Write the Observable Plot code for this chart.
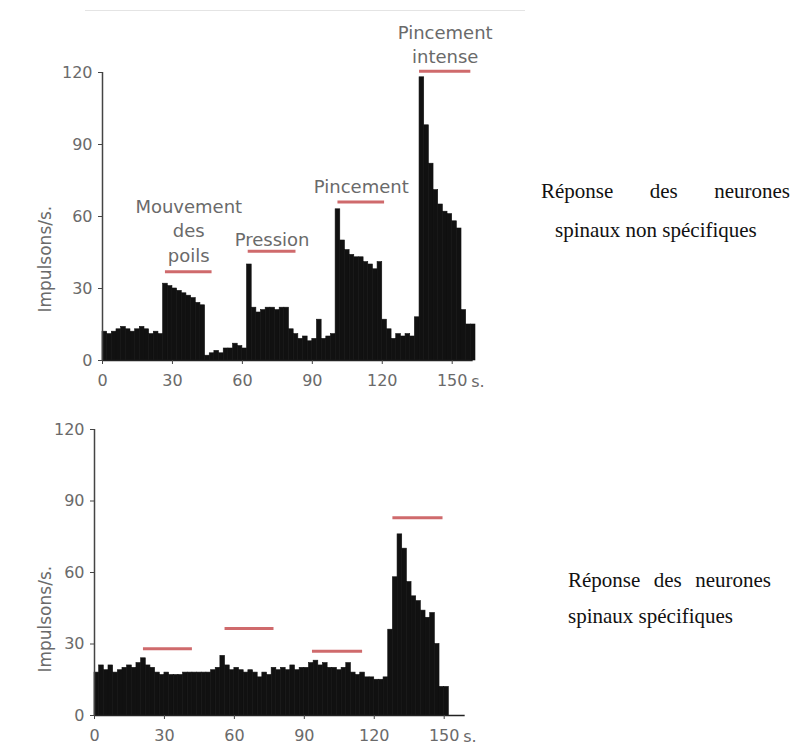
<!DOCTYPE html>
<html>
<head>
<meta charset="utf-8">
<script src="https://cdn.jsdelivr.net/npm/d3@7"></script>
<script src="https://cdn.jsdelivr.net/npm/@observablehq/plot@0.6"></script>
<style>
  html, body { margin: 0; padding: 0; background: #fff; }
  #page { position: relative; width: 790px; height: 748px; overflow: hidden; background: #fff; }
  .chart { position: absolute; left: 0; }
  .note { position: absolute; font-family: "Liberation Serif", "Times New Roman", serif; font-size: 21px; line-height: 21px; color: #111; white-space: nowrap; }
  .just { text-align: justify; text-align-last: justify; white-space: normal; }
  #topline { position: absolute; left: 85px; top: 10px; width: 440px; height: 1px; background: #e4e4e4; }
</style>
</head>
<body>
<div id="page">
  <div id="topline"></div>
  <div id="top" class="chart" style="top:0px"></div>
  <div id="bottom" class="chart" style="top:400px"></div>
  <div class="note just" style="left:541px; top:181px; width:249px;">Réponse des neurones</div>
  <div class="note" style="left:555px; top:220px;">spinaux non spécifiques</div>
  <div class="note just" style="left:568px; top:570px; width:203px;">Réponse des neurones</div>
  <div class="note" style="left:568px; top:606px;">spinaux spécifiques</div>
</div>
<script>
// ---- data ----
const binWidth = 2; // seconds per bin
const yTicks = [0, 30, 60, 90, 120];
const xTicks = [0, 30, 60, 90, 120, 150];
const yLabel = "Impulsons/s.";
const xUnit = "s.";

// Top: neurones non spécifiques (impulsions/s per 2-s bin, from t = 0)
const topRates = [
  12, 11, 12, 13, 14, 13, 12, 13, 14, 13, 11, 12, 11,
  32, 31, 30, 29, 28, 27, 26, 24, 23,
  2, 3, 4, 3, 5, 5, 7, 6, 5,
  40,
  22, 20, 21, 22, 22, 21, 22, 22,
  13, 11, 9, 10, 8, 9, 17, 9, 10, 11,
  63, 50, 46, 44, 43, 43, 41, 40, 38, 41,
  17, 13, 9, 11, 10, 11, 10, 18,
  118, 98, 82, 71, 65, 62, 61, 58, 55, 21, 15, 15
];

// Bottom: neurones spécifiques
const bottomRates = [
  18, 21, 19, 21, 18, 19, 20, 21, 20, 22, 24, 21,
  20, 18, 17, 18, 17, 17, 17, 18, 18, 18, 18, 18, 18,
  19, 20, 25, 21, 19, 20, 19, 18, 19, 18, 16, 18, 17, 20, 19,
  20, 19, 21, 19, 20, 20, 22, 23, 21, 22,
  20, 20, 19, 20, 22, 18, 17, 18, 16, 16, 15, 15,
  16, 36, 58, 76, 70, 56, 50, 48, 44, 41, 43, 30, 12, 12
];

// Stimuli (start s, end s, level of the bar in impulsions/s)
const topStimuli = [
  {label: "Mouvement\ndes\npoils", start: 27, end: 47, level: 37, labelY: 54.6},
  {label: "Pression", start: 62.5, end: 83, level: 45.5, labelY: 51},
  {label: "Pincement", start: 101, end: 121, level: 66, labelY: 73},
  {label: "Pincement\nintense", start: 136, end: 158, level: 120.5, labelY: 132.3}
];
const bottomStimuli = [
  {start: 21, end: 42, level: 28},
  {start: 56, end: 77, level: 36.5},
  {start: 93.5, end: 115, level: 27},
  {start: 128, end: 149.5, level: 83}
];
const axisEnd = 159;

// ---- build ----
function bins(rates) {
  return rates.map((v, i) => ({t0: i * binWidth, t1: (i + 1) * binWidth, v}));
}

const gray = "#6a6a6a";
const red = "#cf6a6c";

function makeChart({rates, stimuli, marginLeft, marginTop, marginBottom, height, width, labelDy, labelDx, labelY, withLabels}) {
  const marks = [
    Plot.rectY(bins(rates), {x1: "t0", x2: "t1", y: "v", fill: "#111", stroke: "#111", strokeWidth: 0.6, inset: 0}),
    Plot.ruleY([0], {x1: 0, x2: axisEnd, stroke: "#222", strokeWidth: 1.5}),
    Plot.ruleX([0], {y1: 0, y2: 120, stroke: "#444", strokeWidth: 1.5}),
    Plot.axisY({ticks: yTicks, tickSize: 4, tickPadding: 6, fontSize: 16, color: gray, stroke: "#444"}),
    Plot.axisX({ticks: xTicks, tickSize: 4, tickPadding: 10, fontSize: 16, color: gray, stroke: "#444"}),
    Plot.text([xUnit], {x: 150, y: 0, text: d => d, textAnchor: "start", dx: 19, dy: 21, fontSize: 16, fill: gray}),
    Plot.ruleY(stimuli, {x1: "start", x2: "end", y: "level", stroke: red, strokeWidth: 3}),
    Plot.text([yLabel], {frameAnchor: "left", y: labelY, text: d => d, rotate: -90, dx: labelDx, fontSize: 17, fill: gray})
  ];
  if (withLabels) {
    marks.push(Plot.text(stimuli, {
      x: d => (d.start + d.end) / 2, y: "labelY", text: "label",
      fontSize: 18, fill: gray, lineHeight: 1.35, lineAnchor: "middle"
    }));
  }
  return Plot.plot({
    width, height, marginLeft, marginRight: width - marginLeft - 373, marginTop, marginBottom,
    x: {domain: [0, 160]},
    y: {domain: [0, 120]},
    style: {fontFamily: "DejaVu Sans, sans-serif", background: "transparent", overflow: "visible"},
    marks
  });
}

document.getElementById("top").append(makeChart({
  rates: topRates, stimuli: topStimuli, width: 500, height: 400,
  marginLeft: 102, marginTop: 72, marginBottom: 40, labelDx: -57, labelY: 20, withLabels: true
}));

document.getElementById("bottom").append(makeChart({
  rates: bottomRates, stimuli: bottomStimuli, width: 500, height: 348,
  marginLeft: 94, marginTop: 29, marginBottom: 33, labelDx: -49, labelY: 18, withLabels: false
}));
</script>
</body>
</html>
